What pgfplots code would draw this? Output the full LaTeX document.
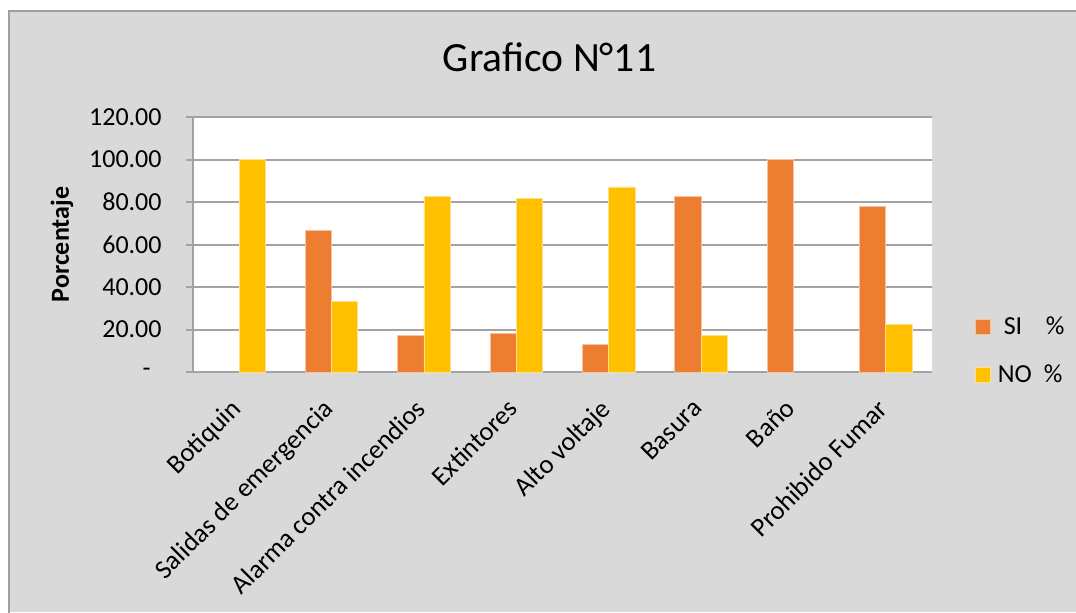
\documentclass[border=0pt]{standalone}
\usepackage{fontspec}
\setmainfont{Carlito}
\usepackage{pgfplots}
\pgfplotsset{compat=1.18}
\definecolor{bg}{HTML}{D9D9D9}
\definecolor{framec}{HTML}{A0A0A0}
\definecolor{gridc}{HTML}{A3A3A3}
\definecolor{siC}{HTML}{ED7D31}
\definecolor{noC}{HTML}{FFC000}
\definecolor{siE}{HTML}{F6C3A0}
\definecolor{noE}{HTML}{FFE08A}
\begin{document}
\begin{tikzpicture}
\useasboundingbox (0,0) rectangle (538pt,306pt);
\fill[white] (0,0) rectangle (538pt,306pt);
\fill[bg] (4.5pt,0) rectangle (538pt,300.5pt);
\draw[framec, line width=1pt] (4.5pt,-1pt) -- (4.5pt,300.5pt) -- (540pt,300.5pt);
\node[anchor=base, inner sep=0pt, font=\fontsize{20.8}{24}\selectfont] at (274.75pt,270pt) {Grafico N°11};
\begin{axis}[
  at={(96.5pt,120pt)}, anchor=south west,
  scale only axis, width=369.5pt, height=127.5pt,
  ybar=0pt, bar width=13.15pt,
  xmin=-0.5, xmax=7.5, ymin=0, ymax=120,
  xtick={0,...,7},
  xticklabels={Botiquin, Salidas de emergencia, Alarma contra incendios, Extintores, Alto voltaje, Basura, Baño, Prohibido Fumar},
  ytick={0,20,...,120},
  yticklabels={{-\rule{5.5pt}{0pt}},20.00,40.00,60.00,80.00,100.00,120.00},
  /pgf/number format/assume math mode=true,
  axis x line*=bottom, axis y line*=left,
  axis line style={-, gridc, line width=1pt},
  ymajorgrids, grid style={gridc, line width=1pt},
  major tick length=3.5pt, tick align=outside,
  xtick style={draw=none}, ytick style={gridc, line width=1pt},
  axis background/.style={fill=white},
  tick label style={font=\fontsize{13}{15.6}\selectfont},
  xticklabel style={xshift=-5pt, yshift=-9pt, rotate=45, anchor=north east, inner sep=0pt, font=\fontsize{13.3}{16}\selectfont},
  yticklabel style={inner sep=0pt, xshift=-12pt},
  ylabel={\textbf{Porcentaje}},
  ylabel style={at={(axis description cs:-0.1773,0.5)}, anchor=center, font=\fontsize{13}{15.6}\selectfont},
  legend style={draw=none, fill=none, at={(axis description cs:1.0582,0.2706)}, anchor=north west,
    inner sep=0pt, outer sep=0pt, column sep=3.5pt, row sep=0pt,
    nodes={inner sep=0pt, minimum height=24pt, font=\fontsize{13}{15.6}\selectfont}},
  legend cell align=left,
  sqlegend/.style={legend image code/.code={\fill[##1] (0pt,-3.75pt) rectangle (7.5pt,3.75pt);}},
]
\addplot[fill=siC, draw=siE, line width=0.4pt, sqlegend] coordinates {
  (1,66.67) (2,17.24) (3,18.18) (4,12.90) (5,82.76) (6,100) (7,77.78)};
\addplot[fill=noC, draw=noE, line width=0.4pt, sqlegend] coordinates {
  (0,100) (1,33.33) (2,82.76) (3,81.82) (4,87.10) (5,17.24) (7,22.22)};
\legend{\hspace{3pt}SI\hspace{11.75pt}\%, NO\hspace{6pt}\%}
\end{axis}
\end{tikzpicture}
\end{document}
